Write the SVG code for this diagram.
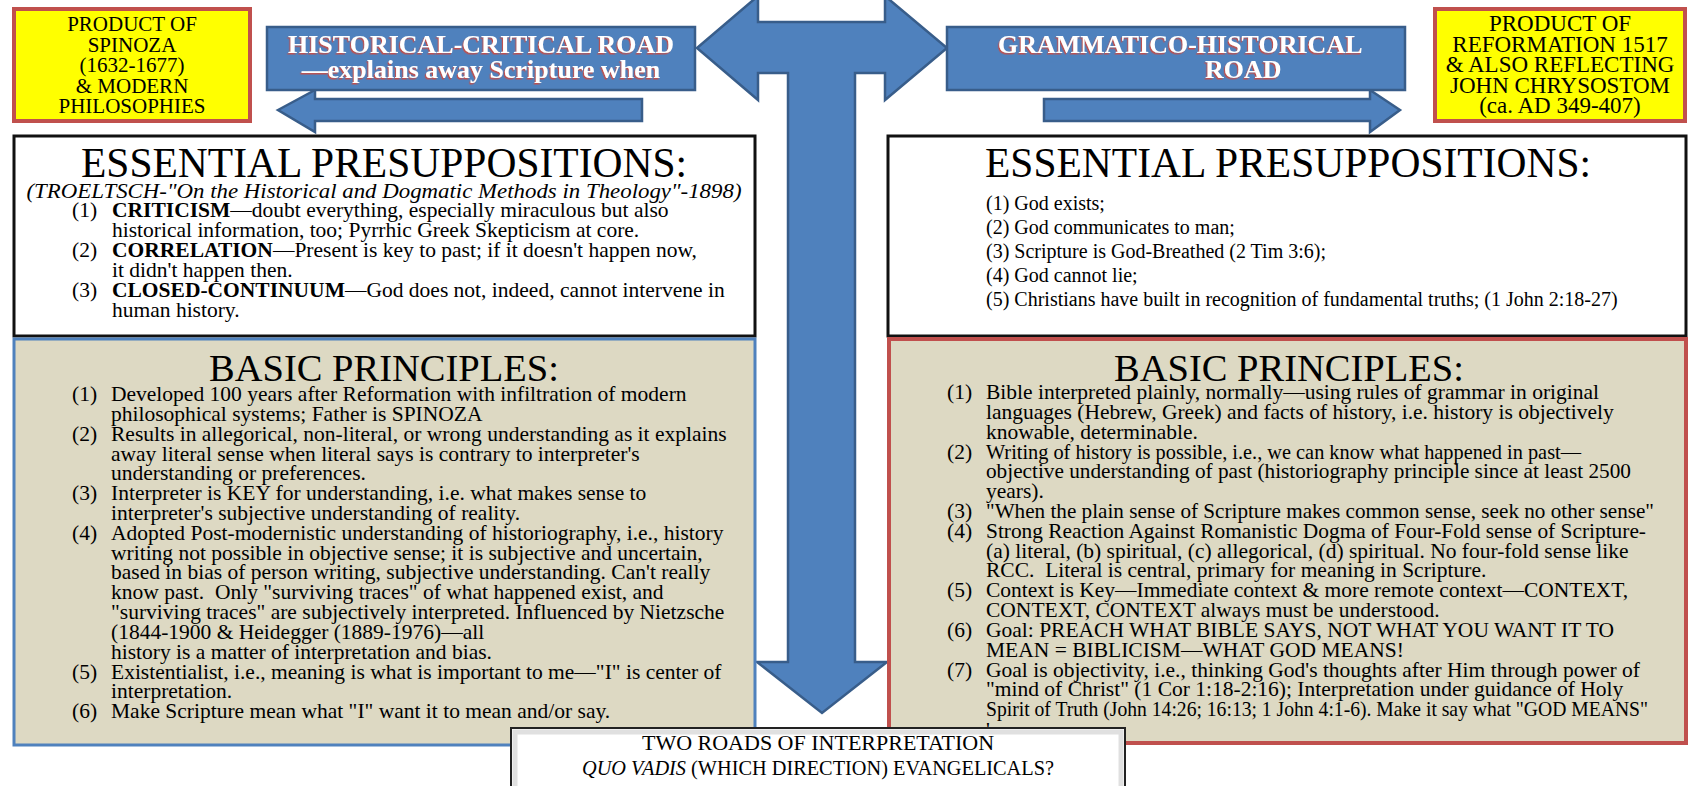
<svg xmlns="http://www.w3.org/2000/svg" width="1691" height="786" viewBox="0 0 1691 786">
<defs>
<style>
text{font-family:"Liberation Serif","Times New Roman",serif;fill:#000}
.b{font-size:21.5px}
.e{font-size:20px}
.h{font-size:41.5px;text-anchor:middle}
.h2{font-size:38.5px;text-anchor:middle}
.ban{font-size:26px;font-weight:bold;fill:#fff}
.y{font-size:21px;text-anchor:middle}
.y2{font-size:23px;text-anchor:middle}
.bd{font-weight:bold}
.pre{white-space:pre}
.blue{fill:#4F81BD;stroke:#385D8A;stroke-width:2.5;stroke-linejoin:miter}
</style>
<filter id="redsh" x="-5%" y="-20%" width="110%" height="140%">
<feDropShadow dx="-1.2" dy="1.5" stdDeviation="0.3" flood-color="#C0504D" flood-opacity="1"/>
</filter>
</defs>
<rect width="1691" height="786" fill="#fff"/>

<g id="connectors">
<path class="blue" d="M697,48 L758,-4 L758,22 L885,22 L885,-4 L947,48 L885,100 L885,73 L855,73 L855,662 L887,662 L822,713 L757,662 L788,662 L788,73 L758,73 L758,100 Z"/>
<path class="blue" d="M278,110 L315,90 L315,99 L642,99 L642,121 L315,121 L315,132 Z"/>
<path class="blue" d="M1044,99 L1370,99 L1370,90 L1400,110 L1370,132 L1370,121 L1044,121 Z"/>
</g>

<g id="banner-left">
<rect x="267" y="27" width="428" height="63" class="blue"/>
<text class="ban" x="481" y="53" text-anchor="middle" filter="url(#redsh)">HISTORICAL-CRITICAL ROAD</text>
<text class="ban" x="481" y="78" text-anchor="middle" filter="url(#redsh)">—explains away Scripture when</text>
</g>

<g id="banner-right">
<rect x="947" y="27" width="458" height="63" class="blue"/>
<text class="ban" x="998" y="53" filter="url(#redsh)">GRAMMATICO-HISTORICAL</text>
<text class="ban" x="1205" y="78" filter="url(#redsh)">ROAD</text>
</g>

<g id="yellow-left">
<rect x="14" y="9" width="236" height="112" fill="#FFFF00" stroke="#C0504D" stroke-width="4"/>
<text class="y" x="132" y="31">PRODUCT OF</text>
<text class="y" x="132" y="51.5">SPINOZA</text>
<text class="y" x="132" y="72">(1632-1677)</text>
<text class="y" x="132" y="92.5">&amp; MODERN</text>
<text class="y" x="132" y="113">PHILOSOPHIES</text>
</g>

<g id="yellow-right">
<rect x="1435" y="9" width="250" height="112" fill="#FFFF00" stroke="#C0504D" stroke-width="4"/>
<text class="y2" x="1560" y="31">PRODUCT OF</text>
<text class="y2" x="1560" y="51.5">REFORMATION 1517</text>
<text class="y2" x="1560" y="72">&amp; ALSO REFLECTING</text>
<text class="y2" x="1560" y="92.5">JOHN CHRYSOSTOM</text>
<text class="y2" x="1560" y="113">(ca. AD 349-407)</text>
</g>

<g id="essential-left">
<rect x="14" y="136" width="741" height="200" fill="#fff" stroke="#111" stroke-width="3"/>
<text class="h" x="384" y="177">ESSENTIAL PRESUPPOSITIONS:</text>
<text x="384" y="198" font-size="21" text-anchor="middle" font-style="italic" textLength="715" lengthAdjust="spacingAndGlyphs">(TROELTSCH-"On the Historical and Dogmatic Methods in Theology"-1898)</text>
<text class="b" x="72" y="217">(1)</text>
<text class="b" x="112" y="217"><tspan class="bd">CRITICISM</tspan>—doubt everything, especially miraculous but also</text>
<text class="b" x="112" y="237">historical information, too; Pyrrhic Greek Skepticism at core.</text>
<text class="b" x="72" y="257">(2)</text>
<text class="b" x="112" y="257"><tspan class="bd">CORRELATION</tspan>—Present is key to past; if it doesn't happen now,</text>
<text class="b" x="112" y="277">it didn't happen then.</text>
<text class="b" x="72" y="297">(3)</text>
<text class="b" x="112" y="297"><tspan class="bd">CLOSED-CONTINUUM</tspan>—God does not, indeed, cannot intervene in</text>
<text class="b" x="112" y="317">human history.</text>
</g>

<g id="essential-right">
<rect x="888" y="136" width="798" height="200" fill="#fff" stroke="#111" stroke-width="3"/>
<text class="h" x="1288" y="177">ESSENTIAL PRESUPPOSITIONS:</text>
<text class="e" x="986" y="210">(1) God exists;</text>
<text class="e" x="986" y="234">(2) God communicates to man;</text>
<text class="e" x="986" y="258">(3) Scripture is God-Breathed (2 Tim 3:6);</text>
<text class="e" x="986" y="282">(4) God cannot lie;</text>
<text class="e" x="986" y="306">(5) Christians have built in recognition of fundamental truths; (1 John 2:18-27)</text>
</g>

<g id="basic-left">
<rect x="14" y="339" width="741" height="406" fill="#DDD9C3" stroke="#4F81BD" stroke-width="3"/>
<text class="h2" x="384" y="381">BASIC PRINCIPLES:</text>
<text class="b" x="72" y="401">(1)</text>
<text class="b" x="111" y="401">Developed 100 years after Reformation with infiltration of modern</text>
<text class="b" x="111" y="420.8">philosophical systems; Father is SPINOZA</text>
<text class="b" x="72" y="440.6">(2)</text>
<text class="b" x="111" y="440.6">Results in allegorical, non-literal, or wrong understanding as it explains</text>
<text class="b" x="111" y="460.5">away literal sense when literal says is contrary to interpreter's</text>
<text class="b" x="111" y="480.3">understanding or preferences.</text>
<text class="b" x="72" y="500.1">(3)</text>
<text class="b" x="111" y="500.1">Interpreter is KEY for understanding, i.e. what makes sense to</text>
<text class="b" x="111" y="519.9">interpreter's subjective understanding of reality.</text>
<text class="b" x="72" y="539.7">(4)</text>
<text class="b" x="111" y="539.7">Adopted Post-modernistic understanding of historiography, i.e., history</text>
<text class="b" x="111" y="559.6">writing not possible in objective sense; it is subjective and uncertain,</text>
<text class="b" x="111" y="579.4">based in bias of person writing, subjective understanding. Can't really</text>
<text class="b pre" x="111" y="599.2">know past.  Only "surviving traces" of what happened exist, and</text>
<text class="b" x="111" y="619">"surviving traces" are subjectively interpreted. Influenced by Nietzsche</text>
<text class="b" x="111" y="638.8">(1844-1900 &amp; Heidegger (1889-1976)—all</text>
<text class="b" x="111" y="658.7">history is a matter of interpretation and bias.</text>
<text class="b" x="72" y="678.5">(5)</text>
<text class="b" x="111" y="678.5">Existentialist, i.e., meaning is what is important to me—"I" is center of</text>
<text class="b" x="111" y="698.3">interpretation.</text>
<text class="b" x="72" y="718.1">(6)</text>
<text class="b" x="111" y="718.1">Make Scripture mean what "I" want it to mean and/or say.</text>
</g>

<g id="basic-right">
<rect x="889" y="339" width="797" height="404" fill="#DDD9C3" stroke="#C0504D" stroke-width="4"/>
<text class="h2" x="1289" y="381">BASIC PRINCIPLES:</text>
<text class="b" x="947" y="399">(1)</text>
<text class="b" x="986" y="399">Bible interpreted plainly, normally—using rules of grammar in original</text>
<text class="b" x="986" y="418.8">languages (Hebrew, Greek) and facts of history, i.e. history is objectively</text>
<text class="b" x="986" y="438.6">knowable, determinable.</text>
<text class="b" x="947" y="458.5">(2)</text>
<text class="b" x="986" y="458.5" textLength="595" lengthAdjust="spacingAndGlyphs">Writing of history is possible, i.e., we can know what happened in past—</text>
<text class="b" x="986" y="478.3" textLength="645" lengthAdjust="spacingAndGlyphs">objective understanding of past (historiography principle since at least 2500</text>
<text class="b" x="986" y="498.1">years).</text>
<text class="b" x="947" y="517.9">(3)</text>
<text class="b" x="986" y="517.9" textLength="668" lengthAdjust="spacingAndGlyphs">"When the plain sense of Scripture makes common sense, seek no other sense"</text>
<text class="b" x="947" y="537.7">(4)</text>
<text class="b" x="986" y="537.7" textLength="660" lengthAdjust="spacingAndGlyphs">Strong Reaction Against Romanistic Dogma of Four-Fold sense of Scripture-</text>
<text class="b" x="986" y="557.6">(a) literal, (b) spiritual, (c) allegorical, (d) spiritual. No four-fold sense like</text>
<text class="b pre" x="986" y="577.4">RCC.  Literal is central, primary for meaning in Scripture.</text>
<text class="b" x="947" y="597.2">(5)</text>
<text class="b" x="986" y="597.2">Context is Key—Immediate context &amp; more remote context—CONTEXT,</text>
<text class="b" x="986" y="617">CONTEXT, CONTEXT always must be understood.</text>
<text class="b" x="947" y="636.8">(6)</text>
<text class="b" x="986" y="636.8">Goal: PREACH WHAT BIBLE SAYS, NOT WHAT YOU WANT IT TO</text>
<text class="b" x="986" y="656.7">MEAN = BIBLICISM—WHAT GOD MEANS!</text>
<text class="b" x="947" y="676.5">(7)</text>
<text class="b" x="986" y="676.5">Goal is objectivity, i.e., thinking God's thoughts after Him through power of</text>
<text class="b" x="986" y="696.3">"mind of Christ" (1 Cor 1:18-2:16); Interpretation under guidance of Holy</text>
<text class="b" x="986" y="716.1" textLength="662" lengthAdjust="spacingAndGlyphs">Spirit of Truth (John 14:26; 16:13; 1 John 4:1-6). Make it say what "GOD MEANS"</text>
<text class="b" x="986" y="737">'</text>
</g>

<g id="title-box">
<rect x="511" y="728" width="614" height="64" fill="#fff" stroke="#222" stroke-width="2"/>
<rect x="515" y="732" width="606" height="60" fill="none" stroke="#ccc" stroke-width="5" opacity="0.6"/>
<text x="818" y="750" font-size="22" text-anchor="middle">TWO ROADS OF INTERPRETATION</text>
<text x="818" y="775" font-size="22" text-anchor="middle" textLength="472" lengthAdjust="spacingAndGlyphs"><tspan font-style="italic">QUO VADIS</tspan> (WHICH DIRECTION) EVANGELICALS?</text>
</g>
</svg>
